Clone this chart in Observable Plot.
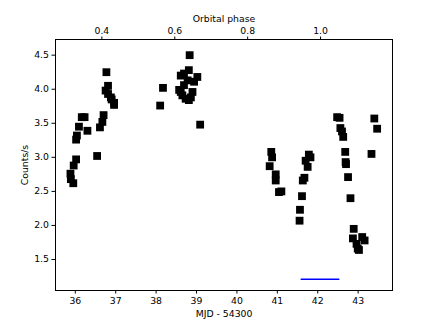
<!DOCTYPE html>
<html><head><meta charset="utf-8">
<script src="https://cdn.jsdelivr.net/npm/d3@7"></script>
<script src="https://cdn.jsdelivr.net/npm/@observablehq/plot@0.6"></script>
<style>body{margin:0;background:#fff}</style>
</head><body><div id="chart"></div>
<script>
const mjd = [35.88,35.89,35.95,35.96,36.02,36.02,36.04,36.09,36.16,36.23,36.30,36.54,36.61,36.67,36.70,36.77,36.75,36.81,36.81,36.88,36.90,36.96,36.96,
 38.10,38.17,38.83,39.09,38.61,38.69,38.81,39.02,38.94,38.78,38.57,38.65,38.73,38.86,38.90,38.69,38.61,38.81,
 40.85,40.87,40.81,40.96,40.96,41.04,41.10,
 41.55,41.56,41.61,41.63,41.67,41.70,41.75,41.78,41.82,
 42.48,42.54,42.56,42.60,42.63,42.68,42.69,42.70,42.75,42.81,42.89,42.87,42.96,42.99,43.10,43.16,43.02,43.33,43.40,43.47];
const counts = [2.76,2.68,2.62,2.88,2.97,3.26,3.32,3.45,3.59,3.59,3.39,3.02,3.44,3.52,3.62,4.25,3.98,4.05,3.93,3.88,3.85,3.77,3.80,
 3.76,4.02,4.50,3.48,4.20,4.23,4.28,4.18,4.11,4.13,3.99,3.91,3.86,3.88,3.96,4.06,3.96,3.84,
 3.08,3.00,2.87,2.75,2.66,2.49,2.50,
 2.07,2.23,2.43,2.66,2.70,2.95,2.86,3.04,3.00,
 3.59,3.58,3.43,3.38,3.30,3.08,2.93,2.90,2.71,2.40,1.95,1.81,1.73,1.66,1.83,1.78,1.64,3.05,3.57,3.42];
const intervalX = [41.59, 42.52];
const intervalY = [1.21, 1.21];
const phaseTicks = [0.4, 0.6, 0.8, 1.0];
const phaseZeroMJD = 42.07, periodDays = 9.02;

const pts = mjd.map((x,i)=>({x, y: counts[i]}));
const seg = intervalX.map((x,i)=>({x, y: intervalY[i]}));
const phaseToMjd = p => phaseZeroMJD + (p - 1.0) * periodDays;
const mjdToPhase = m => 1.0 + (m - phaseZeroMJD) / periodDays;

const chart = Plot.plot({
  width: 436, height: 327,
  marginLeft: 55, marginRight: 44, marginTop: 39, marginBottom: 37,
  style: {fontFamily: "DejaVu Sans", fontSize: "9.3px", background: "#fff", color: "#000"},
  x: {domain: [35.51, 43.85]},
  y: {domain: [1.045, 4.73]},
  marks: [
    Plot.frame({stroke: "#000"}),
    Plot.axisX({anchor: "bottom", ticks: [36,37,38,39,40,41,42,43], tickFormat: d => String(d), tickSize: 3.5, tickPadding: 3, label: "MJD - 54300", labelAnchor: "center", labelArrow: "none", labelOffset: 26}),
    Plot.axisX({anchor: "top", ticks: phaseTicks.map(phaseToMjd), tickFormat: d => mjdToPhase(d).toFixed(1), tickSize: 3.5, tickPadding: 2, label: "Orbital phase", labelAnchor: "center", labelArrow: "none", labelOffset: 24}),
    Plot.axisY({ticks: [1.5,2.0,2.5,3.0,3.5,4.0,4.5], tickFormat: d => d.toFixed(1), tickSize: 3.5, tickPadding: 3, label: "Counts/s", labelAnchor: "center", labelArrow: "none", labelOffset: 34}),
    Plot.line(seg, {x: "x", y: "y", stroke: "blue", strokeWidth: 1.5}),
    Plot.dot(pts, {x: "x", y: "y", symbol: "square", r: 4.4, fill: "#000", stroke: "none"})
  ]
});
document.getElementById("chart").appendChild(chart);
</script></body></html>
